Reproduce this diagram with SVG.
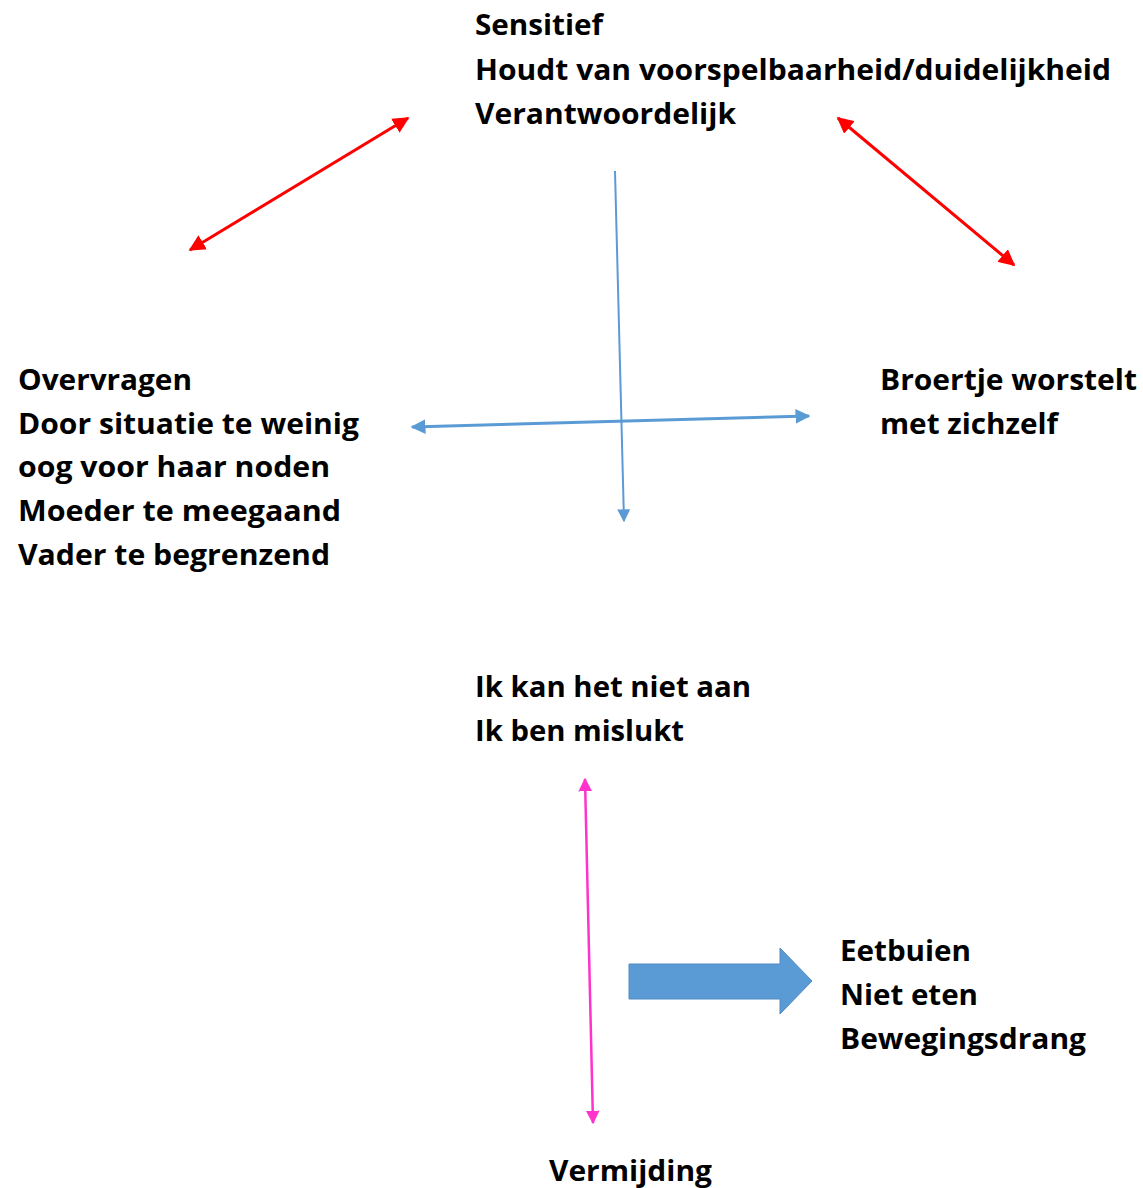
<svg xmlns="http://www.w3.org/2000/svg" width="1143" height="1188" viewBox="0 0 1143 1188">
<style>
text{font-family:"Open Sans","Noto Sans",sans-serif;font-weight:700;font-size:28px;fill:#000}
.red{stroke:#FF0000;stroke-width:3;fill:none}
.blue{stroke:#5B9BD5;stroke-width:2;fill:none}
.blue3{stroke:#5B9BD5;stroke-width:3;fill:none}
.pink{stroke:#FF33CC;stroke-width:2.5;fill:none}
</style>
<defs>
<marker id="mr" viewBox="0 0 10 10" refX="9" refY="5" markerWidth="5.5" markerHeight="5.5" orient="auto-start-reverse" markerUnits="strokeWidth"><path d="M0,0L10,5L0,10z" fill="#FF0000"/></marker>
<marker id="mb" viewBox="0 0 10 10" refX="9" refY="5" markerWidth="6.5" markerHeight="6.5" orient="auto-start-reverse" markerUnits="strokeWidth"><path d="M0,0L10,5L0,10z" fill="#5B9BD5"/></marker>
<marker id="mb3" viewBox="0 0 10 10" refX="9" refY="5" markerWidth="5" markerHeight="5" orient="auto-start-reverse" markerUnits="strokeWidth"><path d="M0,0L10,5L0,10z" fill="#5B9BD5"/></marker>
<marker id="mp" viewBox="0 0 10 10" refX="9" refY="5" markerWidth="5.5" markerHeight="5.5" orient="auto-start-reverse" markerUnits="strokeWidth"><path d="M0,0L10,5L0,10z" fill="#FF33CC"/></marker>
</defs>
<g id="connectors">
<line class="red" x1="408" y1="118" x2="190" y2="250" marker-start="url(#mr)" marker-end="url(#mr)"/>
<line class="red" x1="838" y1="118" x2="1014" y2="265" marker-start="url(#mr)" marker-end="url(#mr)"/>
<line class="blue" x1="615" y1="171" x2="624" y2="521" marker-end="url(#mb)"/>
<line class="blue3" x1="412" y1="427" x2="809" y2="416" marker-start="url(#mb3)" marker-end="url(#mb3)"/>
<line class="pink" x1="585" y1="779" x2="593" y2="1123" marker-start="url(#mp)" marker-end="url(#mp)"/>
<path id="blockArrow" d="M629,964H780V948L812,981L780,1014V999H629z" fill="#5B9BD5" stroke="#4E8BC4" stroke-width="1"/>
</g>
<g id="top">
<text x="475" y="35" textLength="128" lengthAdjust="spacingAndGlyphs">Sensitief</text>
<text x="475" y="80" textLength="636" lengthAdjust="spacingAndGlyphs">Houdt van voorspelbaarheid/duidelijkheid</text>
<text x="475" y="124" textLength="261" lengthAdjust="spacingAndGlyphs">Verantwoordelijk</text>
</g>
<g id="left">
<text x="18" y="390" textLength="174" lengthAdjust="spacingAndGlyphs">Overvragen</text>
<text x="18" y="434" textLength="341" lengthAdjust="spacingAndGlyphs">Door situatie te weinig</text>
<text x="18" y="477" textLength="312" lengthAdjust="spacingAndGlyphs">oog voor haar noden</text>
<text x="18" y="521" textLength="323" lengthAdjust="spacingAndGlyphs">Moeder te meegaand</text>
<text x="18" y="565" textLength="312" lengthAdjust="spacingAndGlyphs">Vader te begrenzend</text>
</g>
<g id="right">
<text x="880" y="390" textLength="257" lengthAdjust="spacingAndGlyphs">Broertje worstelt</text>
<text x="880" y="434" textLength="178" lengthAdjust="spacingAndGlyphs">met zichzelf</text>
</g>
<g id="middle">
<text x="475" y="697" textLength="276" lengthAdjust="spacingAndGlyphs">Ik kan het niet aan</text>
<text x="475" y="741" textLength="209" lengthAdjust="spacingAndGlyphs">Ik ben mislukt</text>
</g>
<g id="behaviour">
<text x="840" y="961" textLength="131" lengthAdjust="spacingAndGlyphs">Eetbuien</text>
<text x="840" y="1005" textLength="138" lengthAdjust="spacingAndGlyphs">Niet eten</text>
<text x="840" y="1049" textLength="246" lengthAdjust="spacingAndGlyphs">Bewegingsdrang</text>
</g>
<g id="bottom">
<text x="549" y="1181" textLength="163" lengthAdjust="spacingAndGlyphs">Vermijding</text>
</g>
</svg>
